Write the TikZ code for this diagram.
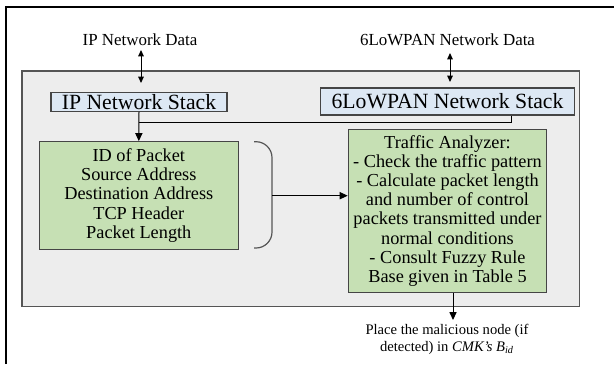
\documentclass[tikz,border=0pt]{standalone}
\usepackage{fontspec}
\setmainfont{Liberation Serif}
\usetikzlibrary{arrows.meta}
\definecolor{panelgray}{HTML}{EDEDED}
\definecolor{panelline}{HTML}{555555}
\definecolor{stackblue}{HTML}{DDE8F4}
\definecolor{boxgreen}{HTML}{C6E0B4}
\definecolor{boxline}{HTML}{454545}
\tikzset{
  frameline/.style={line width=1pt, black},
  panel/.style={draw=panelline, fill=panelgray, line width=0.6pt},
  stackbox/.style={draw=boxline, fill=stackblue, line width=0.6pt, inner sep=0pt,
    font=\fontsize{10.85}{12}\selectfont},
  greenbox/.style={draw=boxline, fill=boxgreen, line width=0.6pt, inner sep=0pt,
    align=center, font=\fontsize{9.15}{9.6}\selectfont},
  headtext/.style={inner sep=0pt, font=\fontsize{8.45}{10}\selectfont},
  foottext/.style={inner sep=0pt, align=center, font=\fontsize{7.3}{8.35}\selectfont},
  conn/.style={line width=0.5pt, black},
  tip/.style={-{Triangle[length=4pt,width=3.6pt]}},
  dtip/.style={{Triangle[length=3.2pt,width=2.8pt]}-{Triangle[length=3.2pt,width=2.8pt]}},
  bracket/.style={draw=panelline, line width=0.6pt, rounded corners=8pt}
}
\begin{document}
\begin{tikzpicture}[x=0.5pt,y=-0.5pt]
\useasboundingbox (0,0) rectangle (614,364);
% outer frame (only left and top visible)
\draw[frameline] (6,364) -- (6,7.3) -- (614,7.3);
% gray panel
\draw[panel] (22,71) rectangle (579.5,306.5);
% header texts
\node[headtext] (ipdata) at (140,40) {IP Network Data};
\node[headtext] (lowdata) at (447.5,40) {6LoWPAN Network Data};
% stacks
\node[stackbox, minimum width=88pt, minimum height=9.2pt] (ipstack) at (139,102) {IP Network Stack};
\node[stackbox, minimum width=127pt, minimum height=13.5pt] (lowstack) at (447.5,101.5) {6LoWPAN Network Stack};
% green boxes
\node[greenbox, minimum width=99.5pt, minimum height=53.8pt] (fields) at (138.8,195.5)
  {ID of Packet\\Source Address\\Destination Address\\TCP Header\\Packet Length};
\node[greenbox, minimum width=99.2pt, minimum height=81.5pt] (traffic) at (447.5,210.8)
  {Traffic Analyzer:\\- Check the traffic pattern\\- Calculate packet length\\and number of control\\packets transmitted under\\normal conditions\\- Consult Fuzzy Rule\\Base given in Table 5};
% footer text
\node[foottext] (place) at (447,339.5)
  {Place the malicious node (if\\detected) in \textit{CMK’s B\textsubscript{id}}};
% double arrows
\coordinate (ipa1) at (141,50);
\coordinate (ipa2) at (141,83);
\coordinate (lwa1) at (450,53);
\coordinate (lwa2) at (450,82);
\draw[conn, dtip] (ipa1) -- (ipa2);
\draw[conn, dtip] (lwa1) -- (lwa2);
% stack connectors
\coordinate (jn) at (511,122);
\draw[conn] (lowstack.south -| jn) -- (jn) -- (jn -| ipstack.south);
\draw[conn, tip] (ipstack.south) -- (fields.north);
% bracket
\coordinate (bt) at (254,141.7);
\coordinate (bb) at (254,248);
\coordinate (bm) at (272,195.7);
\draw[bracket] (bt) -- (bt -| bm) -- (bb -| bm) -- (bb);
\draw[conn, tip] (bm) -- (bm -| traffic.west);
% output arrow
\coordinate (oa) at (453,320);
\draw[conn, tip] (traffic.south -| oa) -- (oa);
\end{tikzpicture}
\end{document}
